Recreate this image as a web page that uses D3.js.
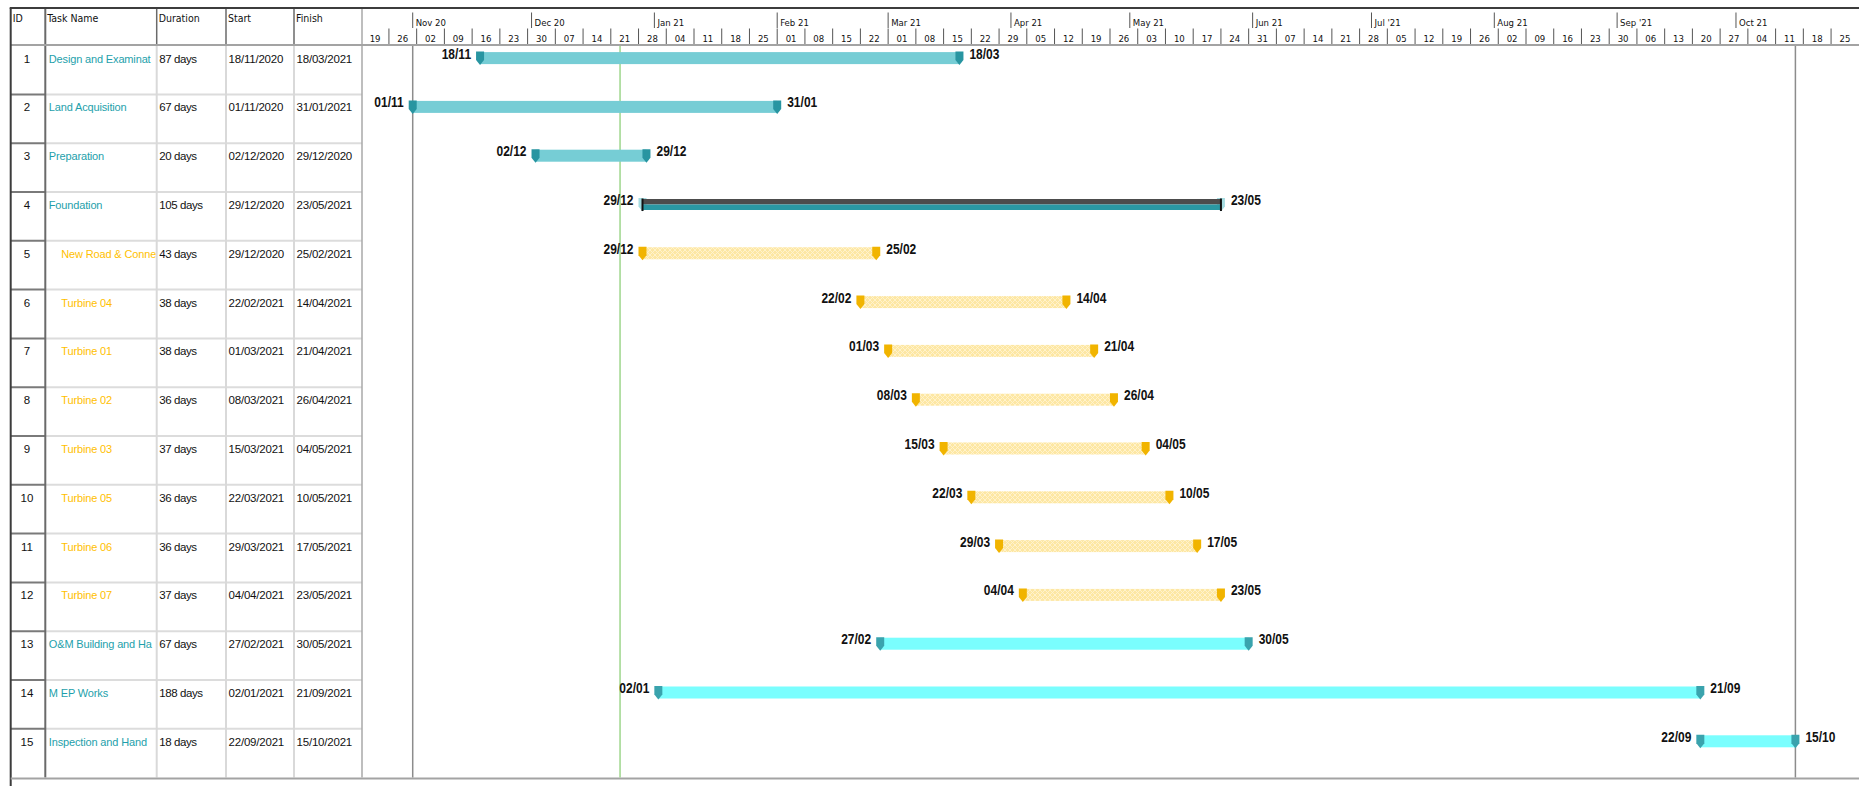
<!DOCTYPE html>
<html>
<head>
<meta charset="utf-8">
<script src="https://cdn.jsdelivr.net/npm/d3@7"></script>
<style>
  html, body { margin: 0; padding: 0; background: #fff; }
  svg { display: block; }
</style>
</head>
<body>
<svg id="gantt" width="1859" height="786"></svg>
<script>
// ---- Schedule data ----
const taskIds = [1, 2, 3, 4, 5, 6, 7, 8, 9, 10, 11, 12, 13, 14, 15];
// names as they fit in the Task Name column
const taskNames = [
  "Design and Examinat", "Land Acquisition", "Preparation", "Foundation",
  "New Road & Conne", "Turbine 04", "Turbine 01", "Turbine 02", "Turbine 03",
  "Turbine 05", "Turbine 06", "Turbine 07", "O&M Building and Ha",
  "M EP Works", "Inspection and Hand"
];
const durations = [
  "87 days", "67 days", "20 days", "105 days", "43 days", "38 days", "38 days", "36 days",
  "37 days", "36 days", "36 days", "37 days", "67 days", "188 days", "18 days"
];
const startDates = [
  "18/11/2020", "01/11/2020", "02/12/2020", "29/12/2020", "29/12/2020", "22/02/2021",
  "01/03/2021", "08/03/2021", "15/03/2021", "22/03/2021", "29/03/2021", "04/04/2021",
  "27/02/2021", "02/01/2021", "22/09/2021"
];
const finishDates = [
  "18/03/2021", "31/01/2021", "29/12/2020", "23/05/2021", "25/02/2021", "14/04/2021",
  "21/04/2021", "26/04/2021", "04/05/2021", "10/05/2021", "17/05/2021", "23/05/2021",
  "30/05/2021", "21/09/2021", "15/10/2021"
];
const outlineLevels = [0, 0, 0, 0, 1, 1, 1, 1, 1, 1, 1, 1, 0, 0, 0];
const barStyles = [
  "task", "task", "task", "summary", "sub", "sub", "sub", "sub", "sub",
  "sub", "sub", "sub", "cyan", "cyan", "cyan"
];
const columnHeaders = ["ID", "Task Name", "Duration", "Start", "Finish"];
const monthLabels = [
  "Nov 20", "Dec 20", "Jan 21", "Feb 21", "Mar 21", "Apr 21",
  "May 21", "Jun 21", "Jul '21", "Aug 21", "Sep '21", "Oct 21"
];
const timelineRange = ["19/10/2020", "01/11/2021"];
const projectStart = "01/11/2020";
const projectFinish = "15/10/2021";
const statusDate = "23/12/2020";

// ---- Layout ----
const W = 1859, H = 786;
const topY = 8, headerBottom = 45, rowH = 48.8, bodyTop = 45.6;
const colX = [10.7, 45.3, 156.7, 226, 294, 362];
const bottomY = bodyTop + rowH * taskIds.length;

const parse = d3.utcParse("%d/%m/%Y");
const fmtShort = d3.utcFormat("%d/%m");

const x = d3.scaleUtc()
  .domain(timelineRange.map(parse))
  .range([361.2, 1858.8]);

const rowTop = i => bodyTop + i * rowH;

const colors = {
  taskBar: "#76cdd5", taskMark: "#2895a1",
  cyanBar: "#7afefe", cyanMark: "#3aa3ad",
  subBar: "#fde7a3", subMark: "#f1b400",
  teal: "#1e9fab", gold: "#ffc000"
};

const svg = d3.select("#gantt");

// Pattern used for the sub-task bars
const defs = svg.append("defs");
const pat = defs.append("pattern")
  .attr("id", "subHatch").attr("patternUnits", "userSpaceOnUse")
  .attr("width", 5).attr("height", 5);
pat.append("rect").attr("width", 5).attr("height", 5).attr("fill", colors.subBar);
pat.append("path").attr("d", "M0,0 L5,5 M5,0 L0,5")
  .attr("stroke", "#fff3cf").attr("stroke-width", 0.9);

defs.append("clipPath").attr("id", "nameClip")
  .append("rect").attr("x", colX[1]).attr("y", 0)
  .attr("width", colX[2] - colX[1] - 1).attr("height", H);
defs.append("clipPath").attr("id", "chartClip")
  .append("rect").attr("x", colX[5]).attr("y", 0)
  .attr("width", W - colX[5]).attr("height", H);

const narrow = "'Liberation Sans Narrow', 'Arial Narrow', 'DejaVu Sans Condensed', sans-serif";
const tableFont = "'Liberation Sans', Arial, sans-serif";

// ---- Table grid ----
const grid = svg.append("g");

// light body row separators
grid.selectAll("line.rowL").data(d3.range(1, taskIds.length)).join("line")
  .attr("x1", colX[1]).attr("x2", colX[5])
  .attr("y1", rowTop).attr("y2", rowTop)
  .attr("stroke", "#dcdcdc").attr("stroke-width", 2);
// darker separators in the ID column
grid.selectAll("line.rowD").data(d3.range(1, taskIds.length)).join("line")
  .attr("x1", colX[0]).attr("x2", colX[1])
  .attr("y1", rowTop).attr("y2", rowTop)
  .attr("stroke", "#7a7a7a").attr("stroke-width", 2);
// body column separators
grid.selectAll("line.colL").data([colX[2], colX[3], colX[4]]).join("line")
  .attr("x1", d => d).attr("x2", d => d)
  .attr("y1", headerBottom).attr("y2", bottomY)
  .attr("stroke", "#d9d9d9").attr("stroke-width", 2);
// header column separators
grid.selectAll("line.colH").data([colX[2], colX[3], colX[4]]).join("line")
  .attr("x1", d => d).attr("x2", d => d)
  .attr("y1", topY).attr("y2", headerBottom)
  .attr("stroke", "#6a6a6a").attr("stroke-width", 1.5);
// ID / name separator
grid.append("line").attr("x1", colX[1]).attr("x2", colX[1])
  .attr("y1", topY).attr("y2", bottomY)
  .attr("stroke", "#6a6a6a").attr("stroke-width", 2);
// table / chart separator
grid.append("line").attr("x1", colX[5]).attr("x2", colX[5])
  .attr("y1", topY).attr("y2", bottomY)
  .attr("stroke", "#a8a8a8").attr("stroke-width", 1.5);
// header bottom
grid.append("line").attr("x1", colX[0]).attr("x2", W)
  .attr("y1", headerBottom).attr("y2", headerBottom)
  .attr("stroke", "#a3a3a3").attr("stroke-width", 2);
// top border
grid.append("line").attr("x1", colX[0] - 1).attr("x2", W)
  .attr("y1", topY).attr("y2", topY)
  .attr("stroke", "#3c3c3c").attr("stroke-width", 2);
// left border
grid.append("line").attr("x1", colX[0]).attr("x2", colX[0])
  .attr("y1", topY).attr("y2", H)
  .attr("stroke", "#3c3c3c").attr("stroke-width", 2);
// bottom border
grid.append("line").attr("x1", colX[0]).attr("x2", W)
  .attr("y1", bottomY + 0.8).attr("y2", bottomY + 0.8)
  .attr("stroke", "#a3a3a3").attr("stroke-width", 2);

// ---- Table header ----
svg.append("g").selectAll("text").data(columnHeaders).join("text")
  .attr("x", (d, i) => colX[i] + 2)
  .attr("y", 21.5)
  .attr("font-family", narrow).attr("font-size", 10.5).attr("fill", "#111")
  .text(d => d);

// ---- Table body ----
const body = svg.append("g");
body.selectAll("text.id").data(taskIds).join("text")
  .attr("x", (colX[0] + colX[1]) / 2 - 1).attr("y", (d, i) => rowTop(i) + 17)
  .attr("text-anchor", "middle")
  .attr("font-family", tableFont).attr("font-size", 11.5).attr("fill", "#111")
  .text(d => d);
body.append("g").attr("clip-path", "url(#nameClip)")
  .selectAll("text").data(taskNames).join("text")
  .attr("x", (d, i) => colX[1] + 3.5 + outlineLevels[i] * 12.5)
  .attr("y", (d, i) => rowTop(i) + 17)
  .attr("font-family", tableFont).attr("font-size", 11).attr("letter-spacing", -0.15)
  .attr("fill", (d, i) => outlineLevels[i] ? colors.gold : colors.teal)
  .text(d => d);
[durations, startDates, finishDates].forEach((arr, c) => {
  body.selectAll("text.c" + c).data(arr).join("text")
    .attr("class", "c" + c)
    .attr("x", colX[c + 2] + 2.5).attr("y", (d, i) => rowTop(i) + 17)
    .attr("font-family", tableFont).attr("font-size", 11.5)
    .attr("letter-spacing", c === 0 ? -0.4 : -0.2).attr("fill", "#111")
    .text(d => d);
});

// ---- Timescale header ----
const scaleG = svg.append("g").attr("clip-path", "url(#chartClip)");
const months = d3.utcMonth.range(d3.utcMonth.ceil(x.domain()[0]), x.domain()[1]);
scaleG.selectAll("line.month").data(months).join("line")
  .attr("x1", d => x(d)).attr("x2", d => x(d))
  .attr("y1", 12.5).attr("y2", 28)
  .attr("stroke", "#555").attr("stroke-width", 1);
scaleG.selectAll("text.month").data(months).join("text")
  .attr("x", d => x(d) + 3).attr("y", 26)
  .attr("font-family", narrow).attr("font-size", 9.5).attr("fill", "#111")
  .text((d, i) => monthLabels[i]);

const mondays = d3.utcMonday.range(x.domain()[0], x.domain()[1]);
scaleG.selectAll("line.week").data(mondays.slice(1)).join("line")
  .attr("x1", d => x(d)).attr("x2", d => x(d))
  .attr("y1", 28.5).attr("y2", 44)
  .attr("stroke", "#555").attr("stroke-width", 1);
const weekFmt = d3.utcFormat("%d");
scaleG.selectAll("text.week").data(mondays).join("text")
  .attr("x", d => (x(d) + x(d3.utcDay.offset(d, 7))) / 2)
  .attr("y", 41.5)
  .attr("text-anchor", "middle")
  .attr("font-family", narrow).attr("font-size", 9.5).attr("fill", "#111")
  .text(d => weekFmt(d));

// ---- Project markers ----
const lines = svg.append("g");
const pStart = parse(projectStart);
const pFinish = d3.utcDay.offset(parse(projectFinish), 1);
const status = d3.utcHour.offset(parse(statusDate), 8);
lines.selectAll("line.proj").data([pStart, pFinish]).join("line")
  .attr("x1", d => x(d)).attr("x2", d => x(d))
  .attr("y1", headerBottom + 1).attr("y2", bottomY)
  .attr("stroke", "#8c8c8c").attr("stroke-width", 1.5);
lines.append("line")
  .attr("x1", x(status)).attr("x2", x(status))
  .attr("y1", headerBottom + 1).attr("y2", bottomY)
  .attr("stroke", "#8fcf7a").attr("stroke-width", 1.3);

// ---- Bars ----
const tasks = taskIds.map((id, i) => ({
  id, i,
  start: parse(startDates[i]),
  end: d3.utcDay.offset(parse(finishDates[i]), 1),
  startLabel: fmtShort(parse(startDates[i])),
  endLabel: fmtShort(parse(finishDates[i])),
  style: barStyles[i]
}));

const shield = (cx, top) =>
  `M${cx - 4},${top} L${cx + 4},${top} L${cx + 4},${top + 8.5} L${cx},${top + 13.5} L${cx - 4},${top + 8.5} Z`;

const dateLabel = (g, px, py, anchor, txt) =>
  g.append("text")
    .attr("transform", `translate(${px},${py}) scale(0.8,1)`)
    .attr("text-anchor", anchor)
    .attr("font-family", tableFont).attr("font-weight", "bold").attr("font-size", 15)
    .attr("fill", "#111").text(txt);

const bars = svg.append("g");
tasks.forEach(t => {
  const g = bars.append("g");
  const y0 = rowTop(t.i);
  const xs = x(t.start), xe = x(t.end);
  if (t.style === "summary") {
    g.append("path").attr("d", shield(xs, y0 + 6)).attr("fill", "#a6dce1");
    g.append("path").attr("d", shield(xe, y0 + 6)).attr("fill", "#a6dce1");
    g.append("rect").attr("x", xs).attr("y", y0 + 7).attr("width", xe - xs).attr("height", 5.5)
      .attr("fill", "#4c4c4c");
    g.append("rect").attr("x", xs).attr("y", y0 + 12.5).attr("width", xe - xs).attr("height", 5.5)
      .attr("fill", "#2a98a3");
    [xs, xe].forEach(v => g.append("rect").attr("x", v - 1).attr("y", y0 + 6.5)
      .attr("width", 2).attr("height", 12.5).attr("fill", "#111"));
  } else {
    const fill = t.style === "task" ? colors.taskBar : t.style === "cyan" ? colors.cyanBar : "url(#subHatch)";
    const mark = t.style === "task" ? colors.taskMark : t.style === "cyan" ? colors.cyanMark : colors.subMark;
    g.append("rect").attr("x", xs).attr("y", y0 + 6.5).attr("width", xe - xs).attr("height", 12)
      .attr("fill", fill);
    g.append("path").attr("d", shield(xs, y0 + 6)).attr("fill", mark);
    g.append("path").attr("d", shield(xe, y0 + 6)).attr("fill", mark);
  }
  dateLabel(g, xs - 9, y0 + 13, "end", t.startLabel);
  dateLabel(g, xe + 10, y0 + 13, "start", t.endLabel);
});
</script>
</body>
</html>
